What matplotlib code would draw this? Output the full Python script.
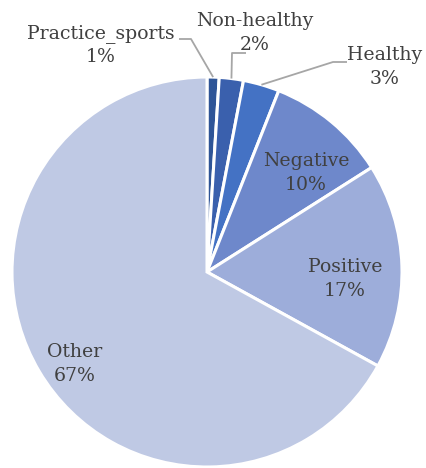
import numpy as np
import matplotlib
matplotlib.use("Agg")
import matplotlib.pyplot as plt

categories = ["Practice_sports", "Non-healthy", "Healthy", "Negative", "Positive", "Other"]
shares = [1, 2, 3, 10, 17, 67]
colors = ["#2F5597", "#3A60AD", "#4472C4", "#6E88CB", "#9DADDA", "#BFC9E4"]

W, H = 426, 468
fig = plt.figure(figsize=(W / 100, H / 100), dpi=100)
ax = fig.add_axes([0, 0, 1, 1])

# pie centre and radius in pixels
cx, cy, R = 207, 272, 195

wedges, _ = ax.pie(shares, colors=colors, startangle=90, counterclock=False,
                   radius=1.0, center=(0, 0),
                   wedgeprops=dict(edgecolor="white", linewidth=2.2))

ax.set_aspect("auto")
ax.set_xlim(-cx / R, (W - cx) / R)
ax.set_ylim(-(H - cy) / R, cy / R)
ax.axis("off")

txt = dict(family="DejaVu Serif", fontsize=13.6, color="#404040",
           ha="center", va="center", linespacing=1.42)


def px(x, y):
    return ((x - cx) / R, (cy - y) / R)


def mid_angle(w):
    return np.deg2rad((w.theta1 + w.theta2) / 2)


# labels inside the larger slices
inside = {"Negative": (306, 173), "Positive": (345, 279), "Other": (75, 364)}
# labels outside the thin slices, with leader elbows
outside = {
    "Practice_sports": ((101, 45), (191, 39), (179, 39)),
    "Non-healthy": ((255, 33), (232, 53), (246, 53)),
    "Healthy": ((385, 67), (333, 62), (347, 62)),
}

for w, name, v in zip(wedges, categories, shares):
    label = f"{name}\n{v}%"
    if name in inside:
        ax.text(*px(*inside[name]), label, **txt)
    else:
        (lx, ly), (ex, ey), (hx, hy) = outside[name]
        a = mid_angle(w)
        ax0, ay0 = 1.0 * np.cos(a), 1.0 * np.sin(a)
        e = px(ex, ey)
        h = px(hx, hy)
        ax.plot([ax0, e[0], h[0]], [ay0, e[1], h[1]], color="#A6A6A6", lw=1.3,
                solid_capstyle="butt")
        ax.text(*px(lx, ly), label, **txt)

fig.savefig("out.png", dpi=100)
